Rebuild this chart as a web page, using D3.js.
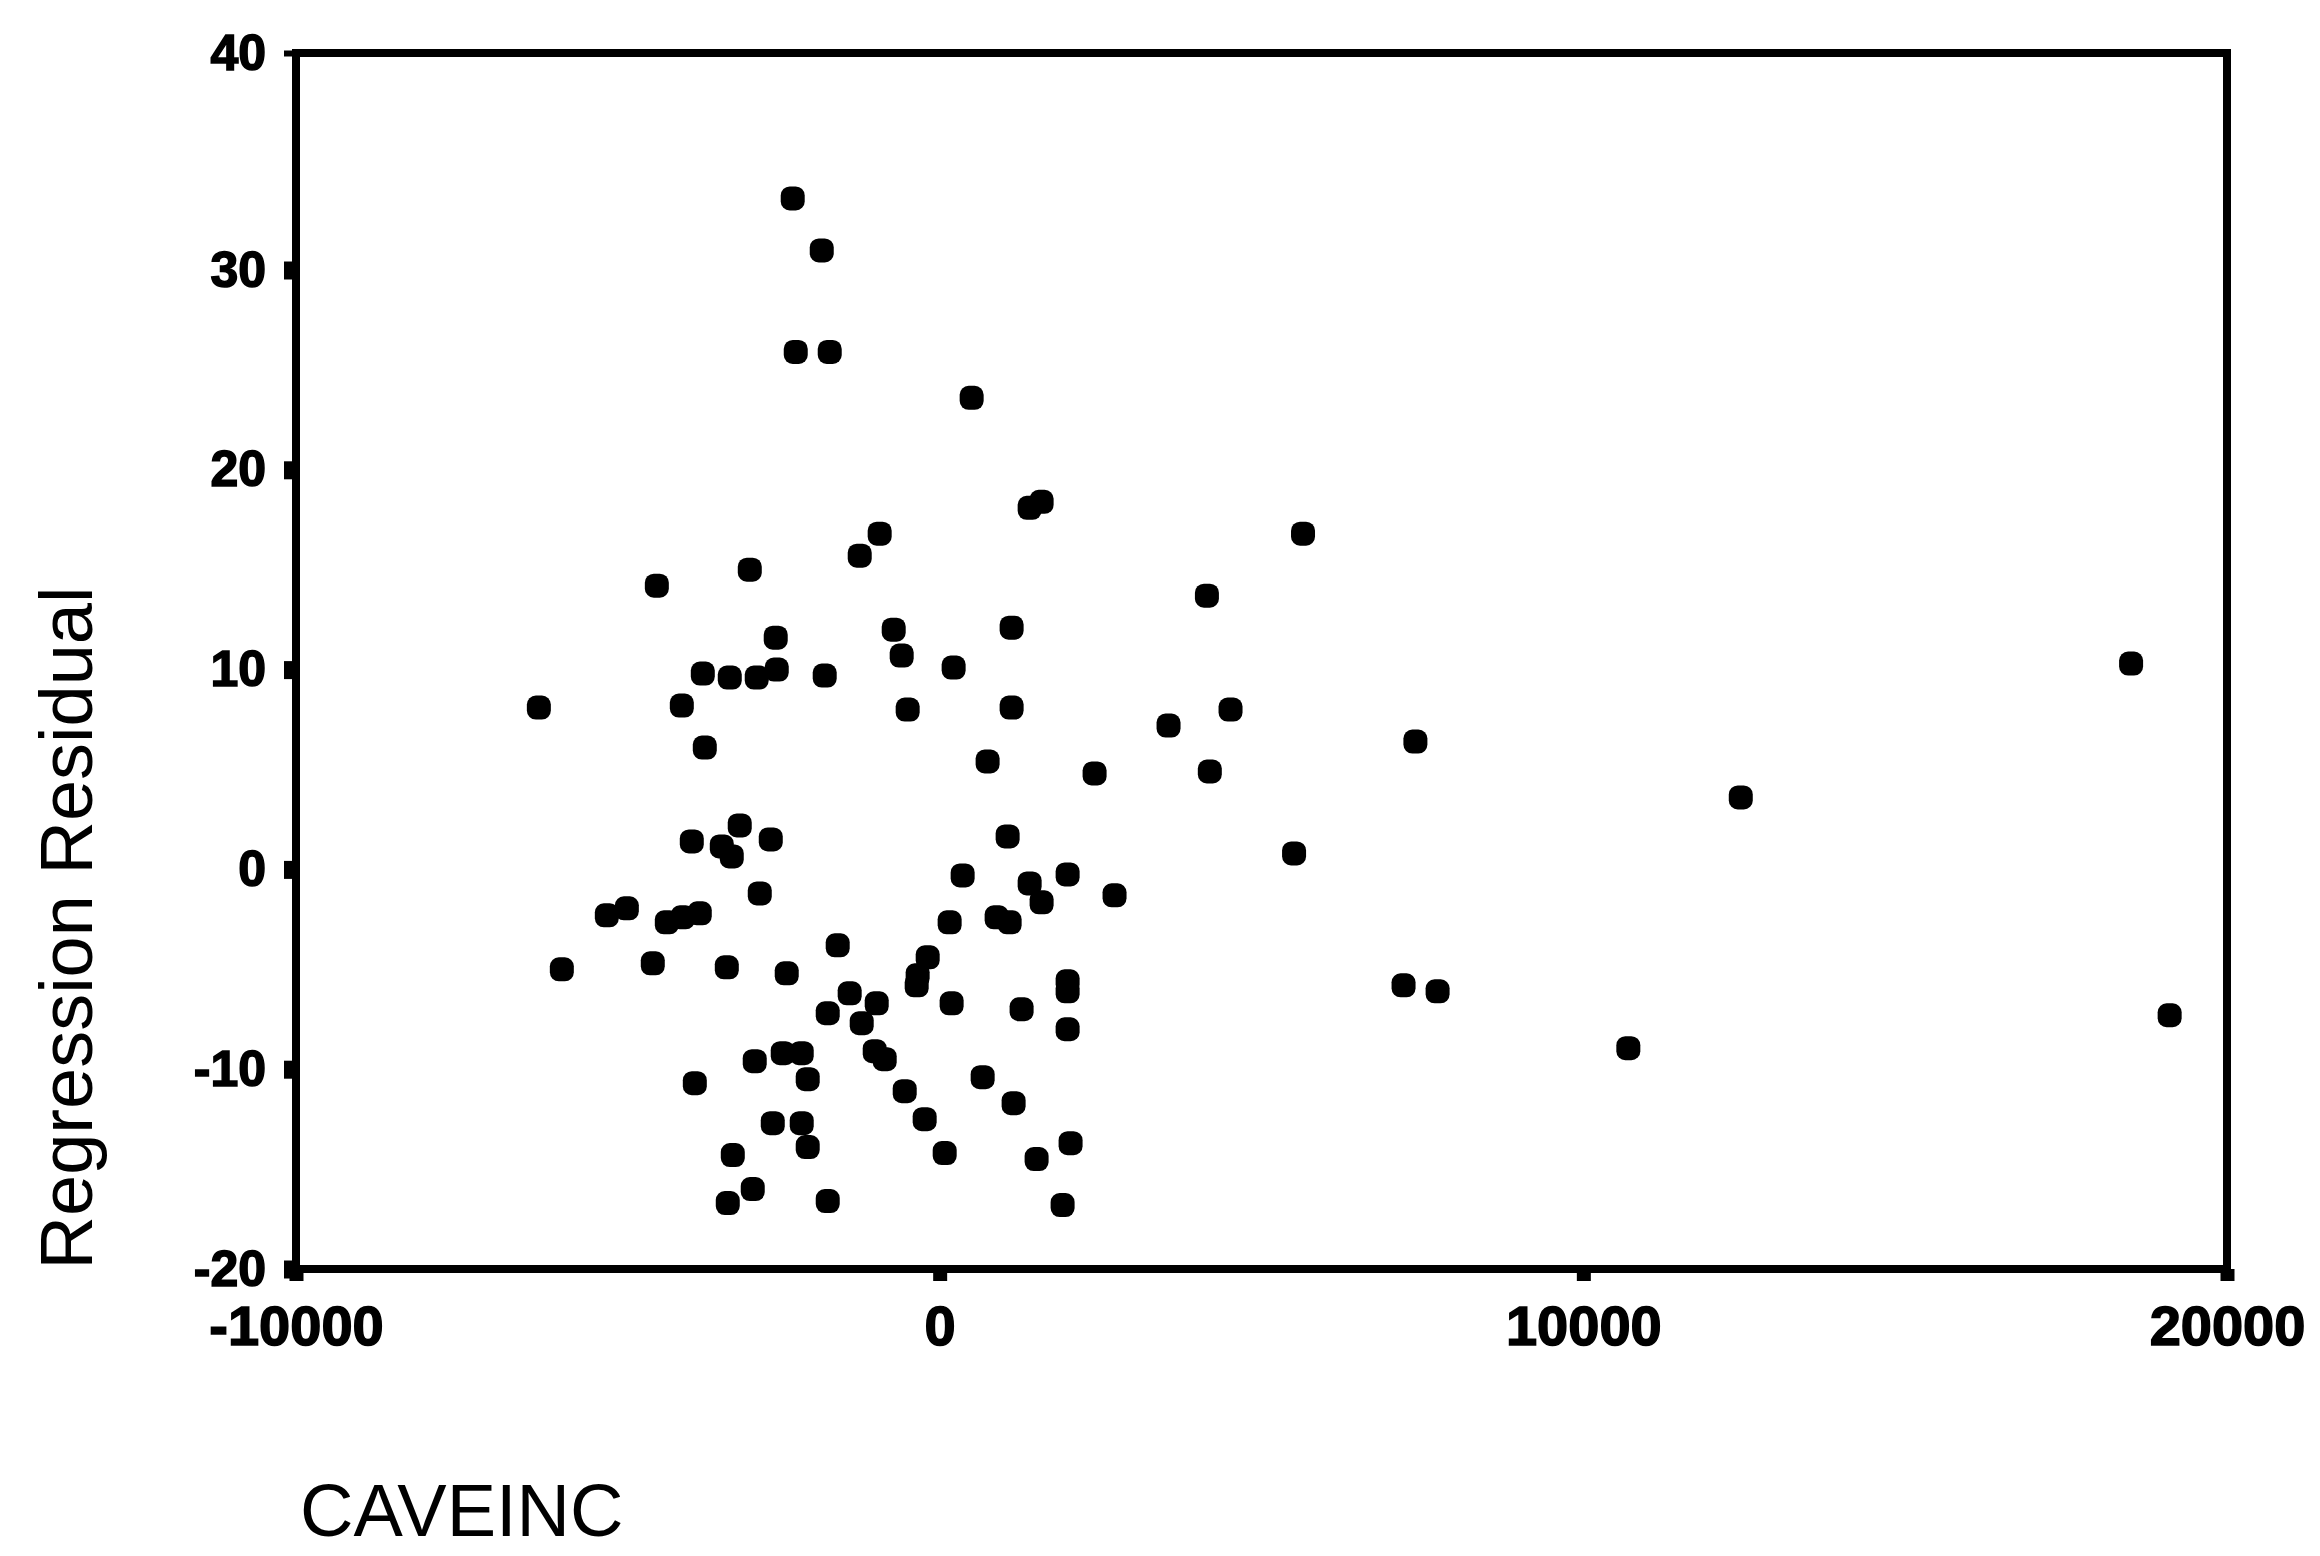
<!DOCTYPE html>
<html><head><meta charset="utf-8">
<script src="https://cdn.jsdelivr.net/npm/d3@7"></script>
<style>body{margin:0;background:#fff}svg{display:block}</style>
</head><body><svg id="c" width="2320" height="1556"></svg>
<script>
const caveinc = [-2283,-1832,-2236,-1708,497,1398,1584,5645,-932,-1242,-4394,-2950,4152,-714,1118,-2547,-590,217,18510,-3680,-3261,-2842,-2531,-1786,-6227,-4006,-497,1118,4519,-3649,3556,7391,745,2407,4197,12446,-3106,-3851,-3385,-3230,-2624,1056,5506,357,1398,1988,-2795,2717,1584,-5171,-4860,-4239,-3991,-3727,155,885,1087,-1584,-186,-5870,-4457,-3307,-2376,-342,-357,1988,1988,7207,7736,-1398,186,-978,1273,-1739,-1211,19109,1988,-1009,-854,-2438,-2143,-2873,10699,-3804,-2050,668,-543,1149,-233,-2593,-2143,-2050,2034,78,-3214,1506,-2904,-3292,-1739,1910];
const residual = [33.3,30.9,25.9,25.9,23.6,18.1,18.4,16.8,16.8,15.7,14.2,15.0,13.7,12.0,12.1,11.6,10.7,10.1,10.3,9.8,9.6,9.6,10.0,9.7,8.1,8.2,8.0,8.1,8.0,6.1,7.2,6.4,5.4,4.8,4.9,3.6,2.2,1.4,1.15,0.65,1.5,1.65,0.8,-0.3,-0.7,-0.25,-1.2,-1.3,-1.65,-2.3,-1.95,-2.65,-2.4,-2.2,-2.65,-2.4,-2.65,-3.8,-4.4,-5.0,-4.7,-4.9,-5.2,-5.3,-5.8,-5.6,-6.1,-5.8,-6.1,-6.2,-6.7,-6.7,-7.0,-7.2,-7.7,-7.3,-8.0,-9.1,-9.5,-9.2,-9.2,-9.6,-8.95,-10.7,-10.5,-10.4,-11.1,-11.7,-12.5,-12.7,-12.7,-13.9,-13.7,-14.2,-14.3,-14.5,-16.0,-16.7,-16.6,-16.8];
const xTicks = [-10000, 0, 10000, 20000];
const yTicks = [-20, -10, 0, 10, 20, 30, 40];
const xTitle = "CAVEINC";
const yTitle = "Regression Residual";

const svg = d3.select("#c");
const x = d3.scaleLinear().domain([-10000, 20000]).range([296, 2227]);
const y = d3.scaleLinear().domain([-20, 30, 40]).range([1269, 270, 53]);

const points = caveinc.map((v, i) => ({x: v, y: residual[i]}));

// frame
svg.append("rect")
  .attr("x", x(-10000)).attr("y", y(40))
  .attr("width", x(20000) - x(-10000)).attr("height", y(-20) - y(40))
  .attr("fill", "none").attr("stroke", "#000").attr("stroke-width", 8);

const fontFam = "'Liberation Sans', Arial, sans-serif";

// y axis
const yAxis = svg.append("g").attr("transform", `translate(${x(-10000)},0)`)
  .call(d3.axisLeft(y).tickValues(yTicks).tickSize(12).tickPadding(18).tickFormat(d => String(d)));
yAxis.select(".domain").remove();
yAxis.selectAll(".tick line").attr("stroke", "#000").attr("stroke-width", 18);
yAxis.selectAll(".tick").filter(d => d === 40).select("line").attr("stroke-width", 6);
yAxis.selectAll(".tick text").attr("fill", "#000").attr("stroke", "#000").attr("stroke-width", 1.5)
  .style("font-family", fontFam)
  .style("font-weight", "bold").style("font-size", "50px");

// x axis
const xAxis = svg.append("g").attr("transform", `translate(0,${y(-20)})`)
  .call(d3.axisBottom(x).tickValues(xTicks).tickSize(12).tickPadding(24).tickFormat(d => String(d)));
xAxis.select(".domain").remove();
xAxis.selectAll(".tick line").attr("stroke", "#000").attr("stroke-width", 14);
xAxis.selectAll(".tick text").attr("fill", "#000").attr("stroke", "#000").attr("stroke-width", 1.5)
  .style("font-family", fontFam)
  .style("font-weight", "bold").style("font-size", "56px");

// points
svg.append("g").selectAll("rect").data(points).join("rect")
  .attr("x", d => x(d.x) - 12).attr("y", d => y(d.y) - 12)
  .attr("width", 24).attr("height", 24).attr("rx", 9).attr("ry", 9)
  .attr("fill", "#000");

// titles
svg.append("text")
  .attr("transform", "translate(92,928) rotate(-90)")
  .attr("text-anchor", "middle")
  .style("font-family", fontFam)
  .style("font-size", "74px").attr("fill", "#000")
  .text(yTitle);

svg.append("text")
  .attr("x", 300).attr("y", 1536)
  .style("font-family", fontFam)
  .style("font-size", "74px").attr("fill", "#000")
  .text(xTitle);
</script>
</body></html>
